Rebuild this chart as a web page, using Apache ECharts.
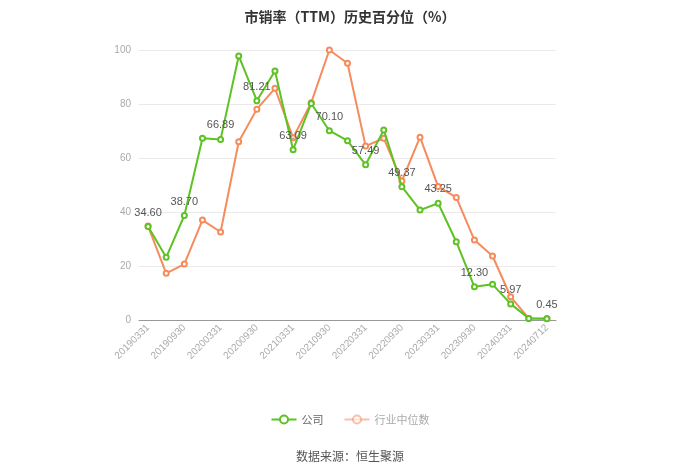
<!DOCTYPE html>
<html><head><meta charset="utf-8">
<script src="https://cdn.jsdelivr.net/npm/echarts@6/dist/echarts.min.js"></script>
<style>html,body{margin:0;padding:0;background:#fff;}#c{width:700px;height:474px;}</style>
</head><body><div id="c"></div>
<script>
var categories = ['20190331','20190630','20190930','20191231','20200331','20200630','20200930','20201231','20210331','20210630','20210930','20211231','20220331','20220630','20220930','20221231','20230331','20230630','20230930','20231231','20240331','20240630','20240712'];
var companyValues = [34.60,23.2,38.70,67.3,66.89,97.8,81.21,92.2,63.09,80.2,70.10,66.4,57.49,70.4,49.37,40.7,43.25,29.0,12.30,13.2,5.97,0.6,0.45];
var industryValues = [34.8,17.3,20.7,37.0,32.6,66.0,78.1,85.8,67.5,80.5,100,95.1,64.4,67.3,51.5,67.7,49.4,45.4,29.6,23.7,8.6,0.6,0.6];
var yTicks = [0,20,40,60,80,100];
var GREEN = '#5ec224', ORANGE = '#f68b5c';
var chart = echarts.init(document.getElementById('c'));
chart.setOption({
  animation:false,
  title:{text:'市销率（TTM）历史百分位（%）',left:'center',top:5,textStyle:{fontSize:14,fontWeight:'bold',color:'#333',fontFamily:'"Noto Sans CJK SC", sans-serif'}},
  legend:{bottom:44,itemWidth:25,itemHeight:10,itemGap:20,textStyle:{fontSize:11,color:'#666',fontFamily:'"Noto Sans CJK SC", sans-serif'},
    data:[{name:'公司'},{name:'行业中位数',itemStyle:{opacity:0.55},lineStyle:{opacity:0.55},textStyle:{color:'#aaa'}}]},
  graphic:[{type:'text',left:'center',top:450,style:{text:'数据来源：恒生聚源',fontSize:12,fill:'#555',fontFamily:'"Noto Sans CJK SC", sans-serif'}}],
  grid:{left:139,right:144,top:50,bottom:154},
  xAxis:{type:'category',data:categories,boundaryGap:true,
    axisLine:{lineStyle:{color:'#999'}},
    axisTick:{alignWithLabel:true,interval:1,lineStyle:{color:'#999'}},
    axisLabel:{interval:1,rotate:45,color:'#aaa',fontSize:10,margin:6}},
  yAxis:{type:'value',min:0,max:100,interval:20,
    axisLine:{show:false},axisTick:{show:false},
    axisLabel:{color:'#aaa',fontSize:10,formatter:function(v){return yTicks.indexOf(v)>=0?String(v):'';}},
    splitLine:{lineStyle:{color:'#eaeaea'}}},
  series:[
    {name:'公司',type:'line',data:companyValues,color:GREEN,symbol:'emptyCircle',symbolSize:5,
      lineStyle:{width:2,color:GREEN},itemStyle:{color:GREEN},z:3,
      label:{show:true,position:'top',color:'#555',fontSize:11,
        formatter:function(p){return p.dataIndex%2===0?p.value.toFixed(2):'';}}},
    {name:'行业中位数',type:'line',data:industryValues,color:ORANGE,symbol:'emptyCircle',symbolSize:5,
      lineStyle:{width:2,color:ORANGE},itemStyle:{color:ORANGE},z:2}
  ]
});
</script></body></html>
